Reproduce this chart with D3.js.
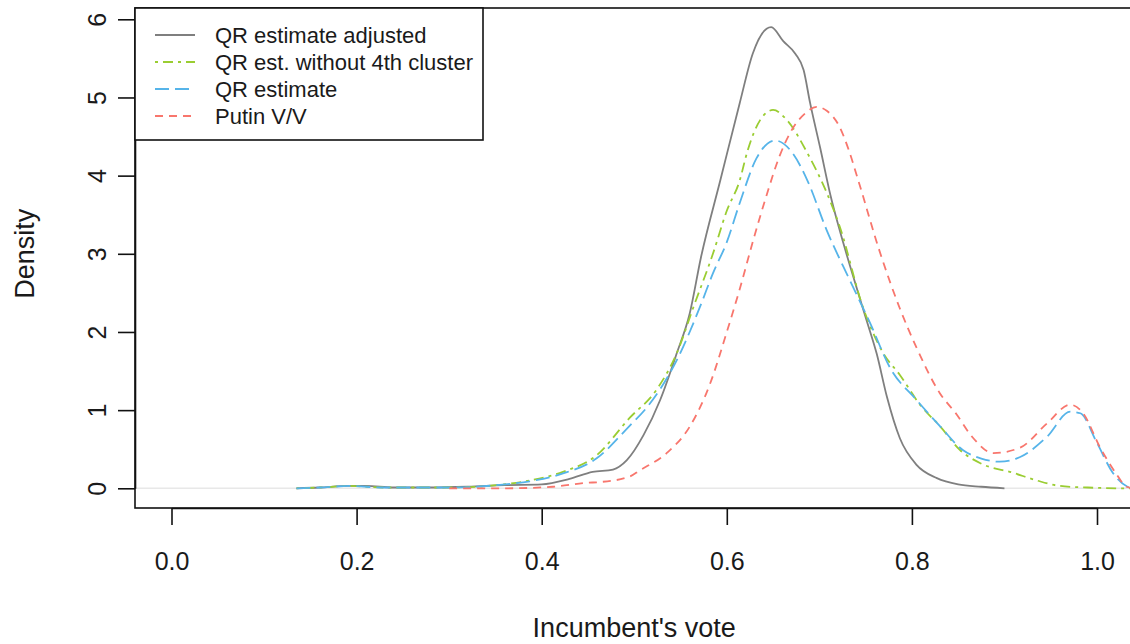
<!DOCTYPE html>
<html>
<head>
<meta charset="utf-8">
<script src="https://cdn.jsdelivr.net/npm/d3@7"></script>
<style>
  html, body { margin: 0; padding: 0; background: #fff; }
  svg { display: block; font-family: "Liberation Sans", Arial, sans-serif; }
</style>
</head>
<body>
<svg id="chart" width="1130" height="644"></svg>
<script>
// Density estimates of the incumbent's vote share
const adjustedX = [0.135,0.16,0.19,0.21,0.24,0.28,0.32,0.36,0.40,0.43,0.455,0.477,0.492,0.51,0.528,0.546,0.56,0.572,0.593,0.614,0.628,0.643,0.648,0.661,0.674,0.683,0.69,0.701,0.712,0.722,0.733,0.751,0.762,0.773,0.787,0.805,0.827,0.85,0.875,0.9];
const adjustedY = [0,0.01,0.03,0.03,0.01,0.01,0.02,0.04,0.05,0.12,0.21,0.24,0.36,0.68,1.13,1.73,2.24,2.95,3.94,4.93,5.56,5.88,5.90,5.72,5.56,5.35,4.93,4.35,3.75,3.30,2.85,2.15,1.72,1.17,0.64,0.30,0.13,0.05,0.02,0.0];

const without4X = [0.135,0.16,0.193,0.229,0.26,0.3,0.33,0.351,0.387,0.423,0.459,0.495,0.524,0.546,0.564,0.585,0.60,0.614,0.622,0.636,0.65,0.665,0.687,0.708,0.722,0.747,0.769,0.787,0.81,0.83,0.852,0.874,0.909,0.935,0.96,0.99,1.025,1.04];
const without4Y = [0,0.01,0.03,0.01,0.01,0.01,0.02,0.04,0.10,0.21,0.42,0.90,1.26,1.73,2.32,3.0,3.55,3.94,4.30,4.71,4.84,4.71,4.29,3.78,3.35,2.32,1.73,1.45,1.05,0.80,0.49,0.32,0.20,0.10,0.03,0.01,0.0,0.0];

const estimateX = [0.135,0.16,0.193,0.229,0.26,0.3,0.33,0.351,0.387,0.423,0.459,0.495,0.514,0.546,0.571,0.585,0.600,0.614,0.632,0.652,0.671,0.687,0.708,0.733,0.755,0.776,0.805,0.83,0.855,0.875,0.895,0.917,0.946,0.971,0.982,1.0,1.017,1.033,1.04];
const estimateY = [0,0.01,0.03,0.01,0.01,0.01,0.02,0.04,0.09,0.19,0.38,0.80,1.04,1.64,2.32,2.75,3.15,3.65,4.22,4.45,4.29,3.94,3.30,2.66,2.11,1.55,1.13,0.80,0.49,0.38,0.34,0.40,0.66,0.98,0.96,0.58,0.20,0.02,0.0];

const putinX = [0.30,0.315,0.362,0.412,0.449,0.463,0.495,0.506,0.535,0.56,0.582,0.60,0.614,0.628,0.643,0.657,0.671,0.685,0.697,0.708,0.722,0.732,0.741,0.766,0.787,0.805,0.83,0.848,0.865,0.888,0.917,0.946,0.971,0.985,1.003,1.02,1.032,1.04];
const putinY = [0,0,0.0,0.02,0.07,0.08,0.15,0.23,0.45,0.79,1.34,2.0,2.55,3.15,3.75,4.25,4.6,4.8,4.88,4.83,4.62,4.32,3.98,3.0,2.3,1.8,1.22,0.95,0.66,0.45,0.52,0.83,1.07,0.96,0.53,0.2,0.02,0];

const seriesNames = ["QR estimate adjusted", "QR est. without 4th cluster", "QR estimate", "Putin V/V"];
const xTicks = [0, 0.2, 0.4, 0.6, 0.8, 1.0];
const yTicks = [0, 1, 2, 3, 4, 5, 6];

const series = [
  { name: seriesNames[0], xs: adjustedX, ys: adjustedY, color: "#7f7f7f", dash: null },
  { name: seriesNames[1], xs: without4X, ys: without4Y, color: "#9acd32", dash: "3,5,10,5" },
  { name: seriesNames[2], xs: estimateX, ys: estimateY, color: "#56b4e9", dash: "14,6" },
  { name: seriesNames[3], xs: putinX, ys: putinY, color: "#f8766d", dash: "8,6" }
];

const svg = d3.select("#chart");
const box = { left: 135, top: 8, right: 1134, bottom: 508 };

const x = d3.scaleLinear().domain([0, 1]).range([171.5, 1097]);
const y = d3.scaleLinear().domain([0, 6]).range([488.3, 19.3]);

svg.append("defs").append("clipPath").attr("id", "plotclip")
  .append("rect")
  .attr("x", box.left).attr("y", box.top)
  .attr("width", box.right - box.left).attr("height", box.bottom - box.top);

// zero reference line
svg.append("line")
  .attr("x1", box.left).attr("x2", box.right)
  .attr("y1", y(0)).attr("y2", y(0))
  .attr("stroke", "#e8e8e8").attr("stroke-width", 1.5);

const line = d3.line()
  .x(d => x(d[0]))
  .y(d => y(d[1]))
  .curve(d3.curveMonotoneX);

const plot = svg.append("g").attr("clip-path", "url(#plotclip)");
series.forEach(s => {
  const pts = s.xs.map((v, i) => [v, s.ys[i]]);
  plot.append("path")
    .datum(pts)
    .attr("d", line)
    .attr("fill", "none")
    .attr("stroke", s.color)
    .attr("stroke-width", 1.8)
    .attr("stroke-dasharray", s.dash)
    .attr("stroke-linejoin", "round");
});

// plot frame
svg.append("rect")
  .attr("x", box.left).attr("y", box.top)
  .attr("width", box.right - box.left).attr("height", box.bottom - box.top)
  .attr("fill", "none").attr("stroke", "#111").attr("stroke-width", 1.6);

// x axis
const xAxis = svg.append("g")
  .attr("transform", `translate(0,${box.bottom})`)
  .call(d3.axisBottom(x).tickValues(xTicks).tickFormat(d3.format(".1f"))
    .tickSize(17).tickSizeOuter(0).tickPadding(27));
xAxis.select(".domain").attr("stroke", "#111").attr("stroke-width", 1.6);
xAxis.selectAll(".tick line").attr("stroke", "#111").attr("stroke-width", 1.6);
xAxis.selectAll("text").attr("font-size", 25).attr("fill", "#1a1a1a")
  .attr("font-family", "'Liberation Sans', Arial, sans-serif");

// y axis
const yAxis = svg.append("g")
  .attr("transform", `translate(${box.left},0)`)
  .call(d3.axisLeft(y).tickValues(yTicks).tickFormat(d3.format("d"))
    .tickSize(17).tickSizeOuter(0));
yAxis.select(".domain").attr("stroke", "#111").attr("stroke-width", 1.6);
yAxis.selectAll(".tick line").attr("stroke", "#111").attr("stroke-width", 1.6);
yAxis.selectAll("text")
  .attr("font-size", 25).attr("fill", "#1a1a1a")
  .attr("font-family", "'Liberation Sans', Arial, sans-serif")
  .attr("x", 0).attr("dy", "0.35em")
  .attr("text-anchor", "middle")
  .attr("transform", "translate(-38,0) rotate(-90)");

// axis titles
svg.append("text")
  .attr("x", (x(0) + x(1)) / 2).attr("y", 637)
  .attr("text-anchor", "middle").attr("font-size", 27).attr("fill", "#1a1a1a")
  .text("Incumbent's vote");
svg.append("text")
  .attr("transform", `translate(34,${(y(0) + y(6)) / 2}) rotate(-90)`)
  .attr("text-anchor", "middle").attr("font-size", 27).attr("fill", "#1a1a1a")
  .text("Density");

// legend
const legend = svg.append("g");
legend.append("rect")
  .attr("x", 135).attr("y", 8).attr("width", 348).attr("height", 132)
  .attr("fill", "#fff").attr("stroke", "#111").attr("stroke-width", 1.6);
series.forEach((s, i) => {
  const ly = 35 + i * 27;
  legend.append("line")
    .attr("x1", 155).attr("x2", 195).attr("y1", ly).attr("y2", ly)
    .attr("stroke", s.color).attr("stroke-width", 1.8)
    .attr("stroke-dasharray", s.dash);
  legend.append("text")
    .attr("x", 215).attr("y", ly).attr("dy", "0.35em")
    .attr("font-size", 22).attr("fill", "#1a1a1a")
    .text(s.name);
});
</script>
</body>
</html>
